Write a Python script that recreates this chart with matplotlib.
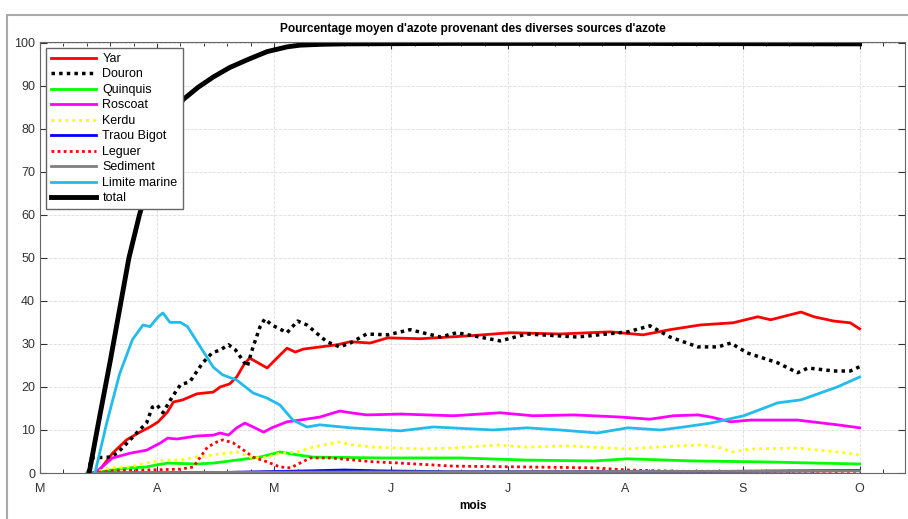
import numpy as np
import matplotlib
matplotlib.use('Agg')
import matplotlib.pyplot as plt
from matplotlib.patches import Rectangle

plt.rcParams['font.family'] = ['Liberation Sans', 'DejaVu Sans']

# x in months since 1 March (0 = M, 7 = O)
month_labels = ['M', 'A', 'M', 'J', 'J', 'A', 'S', 'O']

yar_t = [0.49, 0.62, 0.74, 0.84, 0.94, 1.01, 1.09, 1.14, 1.22, 1.34, 1.48, 1.54, 1.62, 1.68,
         1.74, 1.79, 1.85, 1.94, 2.05, 2.11, 2.18, 2.25, 2.54, 2.65, 2.82, 2.97, 3.25, 3.68,
         4.02, 4.44, 4.87, 5.15, 5.38, 5.64, 5.92, 6.13, 6.24, 6.50, 6.61, 6.78, 6.92, 7.0]
yar_v = [0, 4.6, 7.7, 9.3, 10.7, 11.9, 14.2, 16.5, 17, 18.4, 18.8, 20, 20.7, 22.3,
         25.1, 26.7, 25.8, 24.4, 27.4, 29, 28.1, 28.8, 29.8, 30.5, 30.2, 31.4, 31.2, 31.9,
         32.6, 32.3, 32.8, 32.1, 33.3, 34.4, 34.9, 36.3, 35.6, 37.4, 36.3, 35.3, 34.9, 33.5]

douron_t = [0.41, 0.44, 0.60, 0.66, 0.77, 0.85, 0.91, 0.96, 1.00, 1.05, 1.13, 1.20, 1.28, 1.39,
            1.47, 1.54, 1.61, 1.67, 1.77, 1.82, 1.88, 1.92, 1.98, 2.11, 2.20, 2.28, 2.45, 2.56,
            2.65, 2.79, 2.97, 3.16, 3.42, 3.56, 3.93, 4.16, 4.59, 5.02, 5.21, 5.38, 5.62, 5.79,
            5.90, 6.04, 6.30, 6.47, 6.56, 6.78, 6.92, 7.0]
douron_v = [0, 3.5, 3.7, 4.6, 7.7, 10, 11.6, 15.3, 15.8, 14, 17.7, 20.5, 21.2, 25.6,
            27.9, 28.6, 29.8, 28.6, 24.7, 29.3, 34, 35.8, 34.4, 32.6, 35.3, 34.4, 30.5, 29.3,
            30.2, 32.3, 32.1, 33.3, 31.6, 32.6, 30.7, 32.3, 31.6, 32.8, 34.2, 31.6, 29.3, 29.3,
            30.2, 27.9, 25.6, 23.3, 24.4, 23.7, 23.7, 24.7]

quinquis_t = [0.45, 0.62, 0.77, 0.91, 1.00, 1.09, 1.34, 1.48, 1.68, 1.88, 2.05, 2.20, 2.33,
              2.91, 3.59, 4.16, 4.73, 5.02, 5.58, 6.15, 6.64, 7.0]
quinquis_v = [0, 0.7, 1.2, 1.4, 1.9, 2.3, 2.1, 2.3, 3, 3.7, 4.9, 4.2, 3.7,
              3.5, 3.5, 3, 2.8, 3.3, 2.8, 2.6, 2.3, 2.1]

roscoat_t = [0.47, 0.62, 0.77, 0.91, 1.03, 1.09, 1.17, 1.34, 1.48, 1.54, 1.61, 1.68, 1.75, 1.82,
             1.91, 1.98, 2.11, 2.22, 2.39, 2.56, 2.68, 2.79, 3.08, 3.53, 3.93, 4.21, 4.56, 4.96,
             5.21, 5.41, 5.62, 5.73, 5.90, 6.07, 6.47, 6.81, 7.0]
roscoat_v = [0, 3.5, 4.6, 5.3, 7, 8.1, 7.9, 8.6, 8.8, 9.3, 8.8, 10.5, 11.6, 10.7,
             9.5, 10.5, 11.9, 12.3, 13, 14.4, 13.9, 13.5, 13.7, 13.3, 14, 13.3, 13.5, 13,
             12.5, 13.3, 13.5, 13, 11.9, 12.3, 12.3, 11.2, 10.5]

kerdu_t = [0.45, 0.60, 0.77, 0.91, 1.05, 1.20, 1.34, 1.48, 1.68, 1.82, 1.94, 2.05, 2.20, 2.33,
           2.55, 2.68, 2.85, 3.25, 3.53, 3.91, 4.16, 4.50, 5.02, 5.44, 5.64, 5.79, 5.92, 6.07,
           6.47, 6.81, 7.0]
kerdu_v = [0, 1.2, 1.4, 2.3, 3, 3, 3.7, 4.2, 4.9, 3.5, 3.7, 4.6, 4.9, 6,
           7.2, 6.5, 6, 5.6, 5.8, 6.5, 6, 6.3, 5.6, 6.3, 6.5, 6, 4.9, 5.6,
           5.8, 4.9, 4.2]

traou_t = [0.45, 1.5, 2.3, 2.6, 2.9, 3.5, 4.5, 5.5, 6.5, 7.0]
traou_v = [0, 0.1, 0.5, 0.7, 0.5, 0.3, 0.3, 0.3, 0.5, 0.6]

leguer_t = [0.45, 0.62, 0.91, 1.20, 1.31, 1.37, 1.43, 1.51, 1.56, 1.65, 1.74, 1.82, 1.94, 2.05,
            2.14, 2.22, 2.31, 2.48, 2.85, 3.08, 3.53, 4.16, 4.73, 5.02, 5.47, 6.15, 7.0]
leguer_v = [0, 0.5, 0.7, 0.9, 1.4, 3.7, 6, 7.2, 7.7, 7, 5.3, 3.7, 2.6, 1.4,
            1.2, 2.3, 3.5, 3.5, 2.6, 2.3, 1.6, 1.4, 1.2, 0.7, 0.4, 0.4, 0.4]

sediment_t = [0.40, 2.0, 4.0, 6.0, 7.0]
sediment_v = [0, 0.2, 0.3, 0.4, 0.5]

marine_t = [0.47, 0.57, 0.68, 0.79, 0.88, 0.94, 1.01, 1.05, 1.11, 1.20, 1.26, 1.37, 1.48, 1.56,
            1.68, 1.82, 1.94, 2.05, 2.16, 2.28, 2.39, 2.65, 3.08, 3.36, 3.87, 4.16, 4.44, 4.76,
            5.02, 5.30, 5.50, 5.73, 6.01, 6.30, 6.50, 6.81, 7.0]
marine_v = [0, 11.6, 23, 31, 34.4, 34, 36.3, 37.2, 35, 35, 34, 29.3, 24.6, 22.8,
            21.6, 18.6, 17.4, 15.8, 12.3, 10.7, 11.2, 10.5, 9.8, 10.7, 10, 10.5, 10, 9.3,
            10.5, 10, 10.7, 11.6, 13.3, 16.3, 17, 20, 22.3]

total_t = [0.42, 0.50, 0.60, 0.71, 0.76, 0.85, 1.00, 1.10, 1.22, 1.35, 1.48, 1.62, 1.77, 1.94,
           2.11, 2.22, 2.40, 2.60, 3.5, 5.0, 7.0]
total_v = [0, 11.7, 26, 42.5, 50, 60, 74, 81, 86.7, 89.6, 92, 94.2, 96, 97.9,
           99, 99.4, 99.6, 99.7, 99.8, 99.8, 99.7]

fig = plt.figure(figsize=(9.08, 5.19), dpi=100)
ax = fig.add_axes([0.044, 0.0886, 0.953, 0.831])

fig.patches.append(Rectangle((7 / 908, -0.05), 1.2, (519 - 15) / 519 + 0.05,
                             transform=fig.transFigure, fill=False,
                             edgecolor='#aaaaaa', linewidth=1.5))

ax.plot(yar_t, yar_v, color='red', lw=2, label='Yar')
ax.plot(douron_t, douron_v, color='black', lw=2.5, ls=(0, (1, 1.2)), label='Douron')
ax.plot(quinquis_t, quinquis_v, color='#00ff00', lw=2, label='Quinquis')
ax.plot(roscoat_t, roscoat_v, color='magenta', lw=2, label='Roscoat')
ax.plot(kerdu_t, kerdu_v, color='yellow', lw=2, ls=(0, (1, 1.5)), label='Kerdu')
ax.plot(traou_t, traou_v, color='blue', lw=2, label='Traou Bigot')
ax.plot(leguer_t, leguer_v, color='red', lw=2, ls=(0, (1, 1.2)), label='Leguer')
ax.plot(sediment_t, sediment_v, color='gray', lw=2, label='Sediment')
ax.plot(marine_t, marine_v, color='#22bbee', lw=2, label='Limite marine')
ax.plot(total_t, total_v, color='black', lw=3.5, label='total')

ax.set_xlim(0, 7.39)
ax.set_ylim(0, 100.2)
ax.set_xticks(np.arange(8))
ax.set_xticklabels(month_labels)
ax.set_xticks(np.arange(0, 7.3, 0.2), minor=True)
ax.set_yticks(np.arange(0, 101, 10))
ax.tick_params(axis='both', which='both', direction='in', top=True, right=True,
               labelsize=9, colors='#333333')
ax.tick_params(axis='both', which='major', length=5, width=0.8)
ax.tick_params(axis='x', which='major', pad=7)
ax.tick_params(axis='x', which='minor', length=3, width=0.7)
ax.grid(True, which='major', ls='--', lw=0.6, color='#dddddd')
for s in ax.spines.values():
    s.set_color('#666666')

ax.set_title("Pourcentage moyen d'azote provenant des diverses sources d'azote",
             fontsize=8.6, fontweight='bold', pad=7)
ax.set_xlabel('mois', fontsize=8.5, fontweight='bold', labelpad=4)

leg = ax.legend(loc='upper left', fontsize=9, fancybox=False, framealpha=1,
                edgecolor='#666666', handlelength=3.6, labelspacing=0.28,
                borderaxespad=0.5, handletextpad=0.5, borderpad=0.4)
leg.get_frame().set_linewidth(1)

fig.savefig('out.png', dpi=100)
